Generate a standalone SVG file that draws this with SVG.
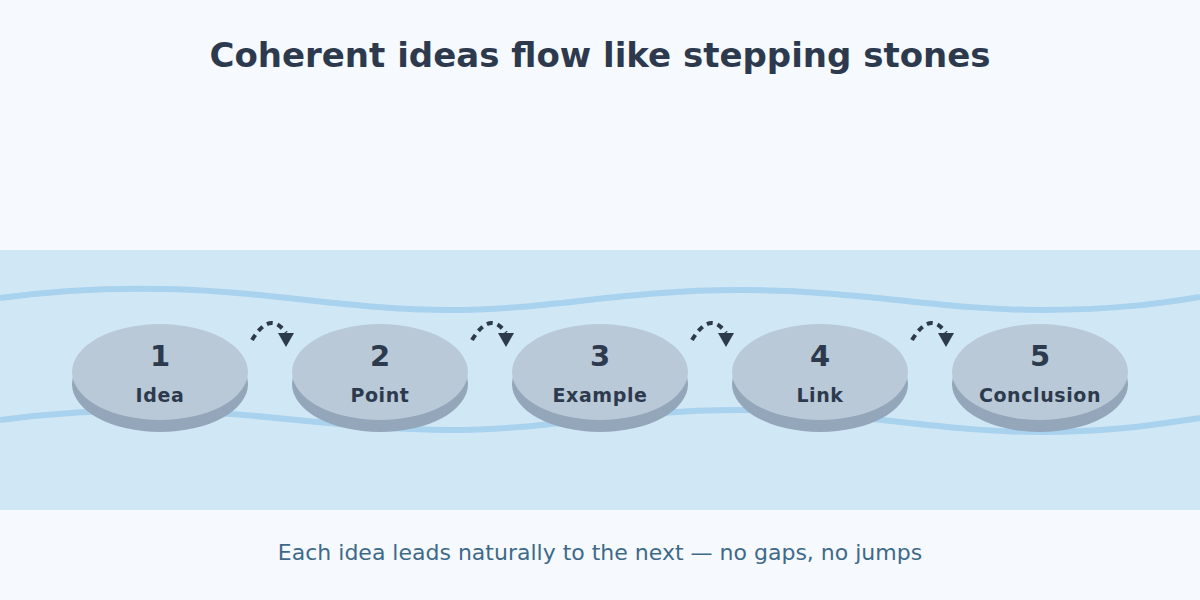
<svg xmlns="http://www.w3.org/2000/svg" width="1200" height="600" viewBox="0 0 1200 600">
<defs>
<style>
.t{font-family:"DejaVu Sans",sans-serif;font-weight:bold;fill:#2d3a4d;text-anchor:middle}
.l{letter-spacing:0.6px}
.wave{fill:none;stroke:#a8d2ee;stroke-width:6}
.top{fill:#b9c9d8}.side{fill:#94a6ba}
.arc{fill:none;stroke:#2d3a4d;stroke-width:4;stroke-dasharray:6 5}
</style>
<marker id="ah" viewBox="0 0 10 10" refX="5" refY="0" markerWidth="16" markerHeight="14" markerUnits="userSpaceOnUse" orient="0" preserveAspectRatio="none"><path d="M0,0 L10,0 L5,10 Z" fill="#2d3a4d"/></marker>
</defs>
<rect width="1200" height="600" fill="#f6f9fd"/>
<rect y="250" width="1200" height="260" fill="#d0e7f5"/>
<text x="600" y="67" class="t" font-size="34">Coherent ideas flow like stepping stones</text>
<g id="river">
<path class="wave" d="M0,298 C60,290 110,288 160,289 C260,290 350,310 450,310 C550,310 620,290 740,290 C860,290 940,310 1040,310 C1120,310 1170,302 1200,297"/>
<path class="wave" d="M0,420 C60,412 110,410 160,410 C260,412 350,430 450,430 C550,430 620,410 740,410 C860,412 940,432 1040,432 C1120,432 1170,422 1200,418"/>
</g>
<g id="connectors">
<path class="arc" d="M252,340 Q270,310 286,333" marker-end="url(#ah)"/>
<path class="arc" d="M472,340 Q490,310 506,333" marker-end="url(#ah)"/>
<path class="arc" d="M692,340 Q710,310 726,333" marker-end="url(#ah)"/>
<path class="arc" d="M912,340 Q930,310 946,333" marker-end="url(#ah)"/>
</g>
<g id="n1"><ellipse class="side" cx="160" cy="384" rx="88" ry="48"/><ellipse class="top" cx="160" cy="372" rx="88" ry="48"/><text x="160" y="366" class="t" font-size="29">1</text><text x="160" y="402" class="t l" font-size="19">Idea</text></g>
<g id="n2"><ellipse class="side" cx="380" cy="384" rx="88" ry="48"/><ellipse class="top" cx="380" cy="372" rx="88" ry="48"/><text x="380" y="366" class="t" font-size="29">2</text><text x="380" y="402" class="t l" font-size="19">Point</text></g>
<g id="n3"><ellipse class="side" cx="600" cy="384" rx="88" ry="48"/><ellipse class="top" cx="600" cy="372" rx="88" ry="48"/><text x="600" y="366" class="t" font-size="29">3</text><text x="600" y="402" class="t l" font-size="19">Example</text></g>
<g id="n4"><ellipse class="side" cx="820" cy="384" rx="88" ry="48"/><ellipse class="top" cx="820" cy="372" rx="88" ry="48"/><text x="820" y="366" class="t" font-size="29">4</text><text x="820" y="402" class="t l" font-size="19">Link</text></g>
<g id="n5"><ellipse class="side" cx="1040" cy="384" rx="88" ry="48"/><ellipse class="top" cx="1040" cy="372" rx="88" ry="48"/><text x="1040" y="366" class="t" font-size="29">5</text><text x="1040" y="402" class="t l" font-size="19">Conclusion</text></g>
<text x="600" y="560" font-family="DejaVu Sans,sans-serif" font-size="22" fill="#3e6a8a" text-anchor="middle">Each idea leads naturally to the next — no gaps, no jumps</text>
</svg>
